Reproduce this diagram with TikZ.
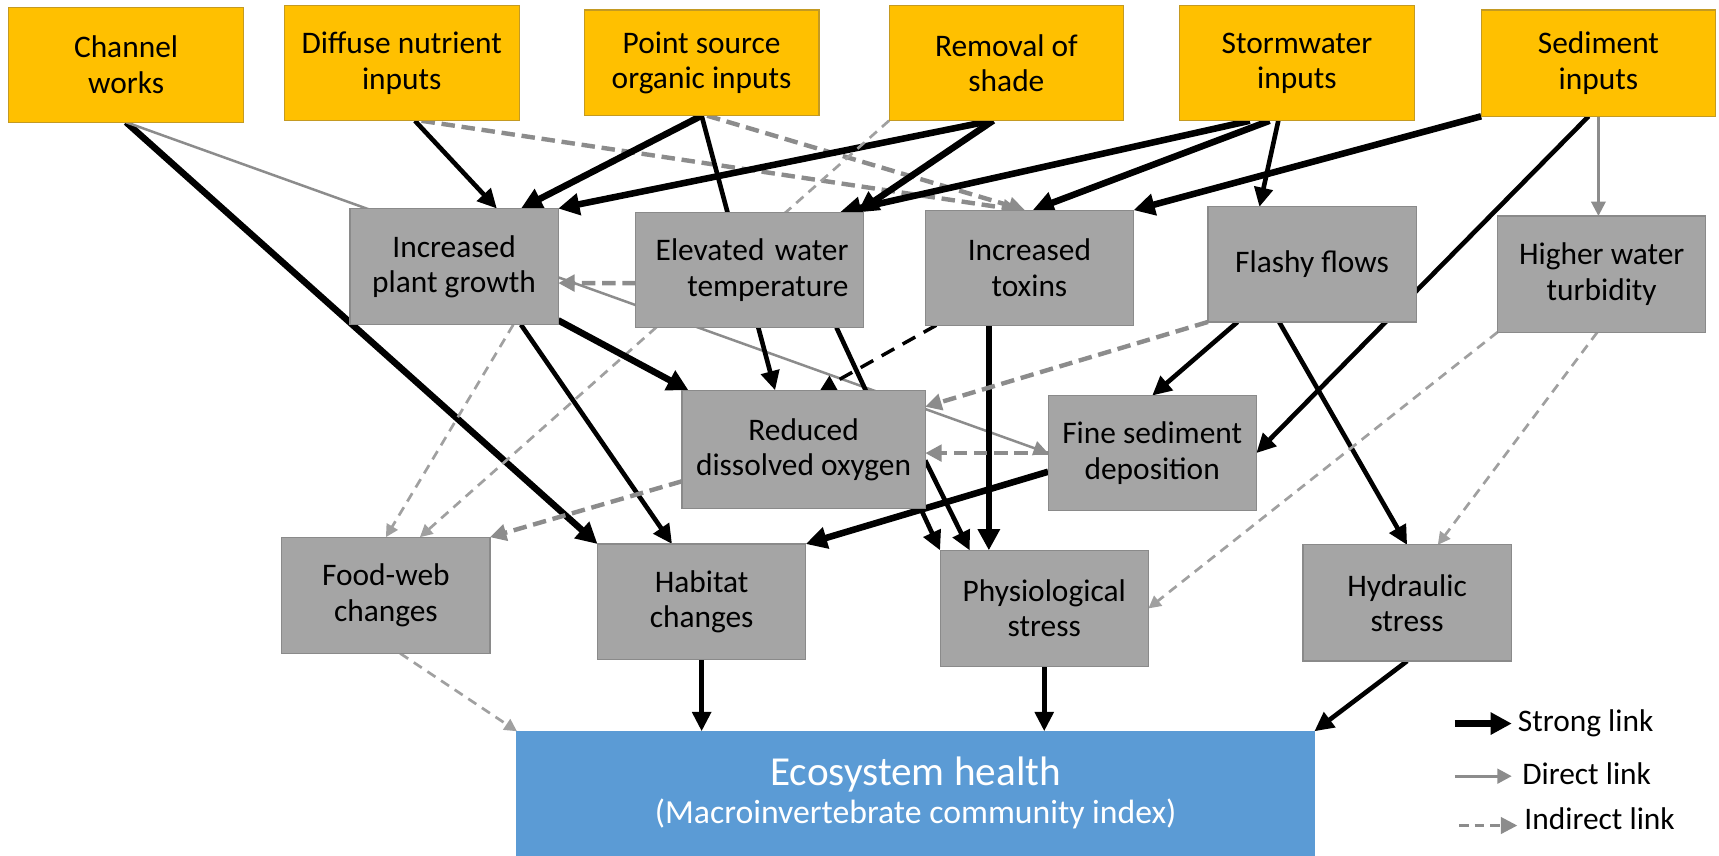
\documentclass[tikz,border=0pt]{standalone}
\usepackage{fontspec}
\setmainfont{Carlito}
\usepackage{tikz}
\usetikzlibrary{arrows.meta,calc,positioning}
\pgfdeclarelayer{edgelayer}
\pgfsetlayers{edgelayer,main}
\definecolor{srcfill}{HTML}{FFC000}
\definecolor{srcline}{HTML}{C49A22}
\definecolor{midfill}{HTML}{A5A5A5}
\definecolor{midline}{HTML}{8A8A8A}
\definecolor{sinkfill}{HTML}{5B9BD5}
\definecolor{linkgray}{HTML}{8C8C8C}
\definecolor{faintgray}{HTML}{A0A0A0}
\tikzset{every picture/.style={line width=0.6pt}}
\tikzstyle{box}=[rectangle,inner sep=0pt,outer sep=0pt,align=center,font=\fontsize{16.3}{18.3}\selectfont]
\tikzstyle{src}=[box,fill=srcfill,draw=srcline,minimum width=4.28cm,minimum height=2.1cm]
\tikzstyle{mid}=[box,fill=midfill,draw=midline,minimum width=3.8cm,minimum height=2.12cm]
\tikzstyle{sink}=[box,fill=sinkfill,draw=sinkfill,text=white,minimum width=14.55cm,minimum height=2.26cm]
\tikzstyle{keytext}=[inner sep=0pt,font=\fontsize{16.3}{18}\selectfont]
\tikzset{
  strong/.style={draw=black,line width=3.4pt,-{Triangle[length=11pt,width=11pt]}},
  medium/.style={draw=black,line width=2.4pt,-{Triangle[length=10pt,width=9.5pt]}},
  blackdash/.style={draw=black,line width=1.8pt,dash pattern=on 7.5pt off 5pt,-{Triangle[length=8pt,width=8pt]}},
  direct/.style={draw=linkgray,line width=1.3pt,-{Triangle[length=7.5pt,width=7.5pt]}},
  indirect/.style={draw=linkgray,line width=2.3pt,dash pattern=on 7pt off 3.5pt,-{Triangle[length=8.5pt,width=8.5pt]}},
  faint/.style={draw=faintgray,line width=1.4pt,dash pattern=on 5pt off 3.5pt,-{Triangle[length=6.5pt,width=6.5pt]}}
}

\begin{document}
\begin{tikzpicture}[x=0.02cm,y=-0.02cm]
\useasboundingbox (0,0) rectangle (1568,780);
% pressures
\node[src] (cw) at (115,59) {Channel\\works};
\node[src] (dn) at (366.5,57.7) {Diffuse nutrient\\inputs};
\node[src,minimum height=1.93cm] (ps) at (640,57.3) {Point source\\organic inputs};
\node[src] (rs) at (918,57.5) {Removal of\\shade};
\node[src] (sw) at (1183,57.7) {Stormwater\\inputs};
\node[src,minimum height=1.94cm] (si) at (1458,57.6) {Sediment\\inputs};
% effects
\node[mid] (pg) at (414.2,243.2) {Increased\\plant growth};
\node[mid,minimum width=4.16cm,minimum height=2.1cm,text width=3.6cm,align=right] (el) at (684,246.3) {Elevated water\\temperature};
\node[mid,minimum height=2.1cm] (tx) at (939,244.2) {Increased\\toxins};
\node[mid,minimum height=2.1cm] (ff) at (1196.8,241.2) {Flashy flows};
\node[mid] (tb) at (1461,250) {Higher water\\turbidity};
\node[mid,minimum width=4.44cm,minimum height=2.16cm] (ro) at (733,410) {Reduced\\dissolved oxygen};
\node[mid,minimum height=2.1cm] (fs) at (1051,413.3) {Fine sediment\\deposition};
\node[mid] (fw) at (352,543) {Food-web\\changes};
\node[mid,minimum height=2.1cm] (hb) at (640,548.7) {Habitat\\changes};
\node[mid] (ph) at (952.5,555) {Physiological\\stress};
\node[mid] (hs) at (1283.5,550) {Hydraulic\\stress};
\node[sink,font=\fontsize{17.5}{19.9}\selectfont] (eh) at (835.25,723.5) {{\fontsize{21.4}{19.9}\selectfont Ecosystem health}\\(Macroinvertebrate community index)};
% legend
\coordinate (k1a) at (1327,660);
\coordinate (k2a) at (1327,708);
\coordinate (k3a) at (1331,753);
\node[keytext,anchor=base west] (k1) at (1384,667.4) {Strong link};
\node[keytext,anchor=base west] (k2) at (1388,716) {Direct link};
\node[keytext,anchor=base west] (k3) at (1390,757) {Indirect link};

\begin{pgfonlayer}{edgelayer}
\path
(cw.south) edge[strong] (hb.north west)
(cw.south) edge[direct] (fs.west)
($(dn.south)+(12,0)$) edge[medium] ($(pg.north)+(39,0)$)
($(dn.south)+(18,0)$) edge[indirect] ($(tx.north)+(-9,0)$)
(ps.south) edge[strong] ($(pg.north)+(61,0)$)
(ps.south) edge[medium] ($(ro.north)+(-26,0)$)
($(ps.south)+(5,0)$) edge[indirect] ($(tx.north)+(-4,0)$)
($(rs.south)+(-13,0)$) edge[strong] (pg.north east)
($(rs.south)+(-12,0)$) edge[strong] ($(el.north east)+(-6,0)$)
(rs.south west) edge[faint] ($(fw.north)+(31,0)$)
($(sw.south)+(-43,0)$) edge[strong] ($(el.north)+(82,0)$)
($(sw.south)+(-25,0)$) edge[strong] ($(tx.north)+(3,0)$)
($(sw.south)+(-17,0)$) edge[medium] ($(ff.north)+(-48,0)$)
(si.south west) edge[strong] (tx.north east)
($(si.south)+(-9,0)$) edge[medium] (fs.east)
(si.south) edge[direct] (si.south |- tb.north)
($(pg.south east)+(0,-4)$) edge[strong] ($(ro.north west)+(6,0)$)
($(pg.south)+(61,0)$) edge[medium] ($(hb.north)+(-27,0)$)
($(pg.south)+(54,0)$) edge[faint] (fw.north)
($(el.west)+(0,12)$) edge[indirect] ($(pg.east)+(0,15)$)
($(el.south)+(79,0)$) edge[medium] (ph.north west)
($(tx.south west)+(10,0)$) edge[blackdash] ($(ro.north)+(15,0)$)
($(tx.south)+(-37,0)$) edge[strong] ($(ph.north)+(-50.5,0)$)
(ff.south west) edge[indirect] ($(ro.north east)+(0,15)$)
($(ff.south)+(-68,0)$) edge[medium] (fs.north)
($(ff.south)+(-30,0)$) edge[medium] (hs.north)
(tb.south west) edge[faint] (ph.east)
($(tb.south)+(-4,0)$) edge[faint] ($(hs.north)+(28,0)$)
($(ro.west)+(0,29)$) edge[indirect] (fw.north east)
($(ro.east)+(0,10)$) edge[medium] ($(ph.north)+(-68,0)$)
(fs.west) edge[indirect] (fs.west -| ro.east)
($(fs.west)+(0,17)$) edge[strong] (hb.north east)
($(fw.south)+(13,0)$) edge[faint] (eh.north west)
(hb.south) edge[medium] (hb.south |- eh.north)
(ph.south) edge[medium] (ph.south |- eh.north)
(hs.south) edge[medium] (eh.north east);
% legend arrows
\path
(k1a) edge[strong] ($(k1a -| k1.west)+(-5,0)$)
(k2a) edge[direct,line width=1.7pt] ($(k2a -| k2.west)+(-9,0)$)
(k3a) edge[indirect,line width=1.5pt,dash pattern=on 5pt off 3pt] ($(k3a -| k3.west)+(-6,0)$);
\end{pgfonlayer}
\end{tikzpicture}
\end{document}
